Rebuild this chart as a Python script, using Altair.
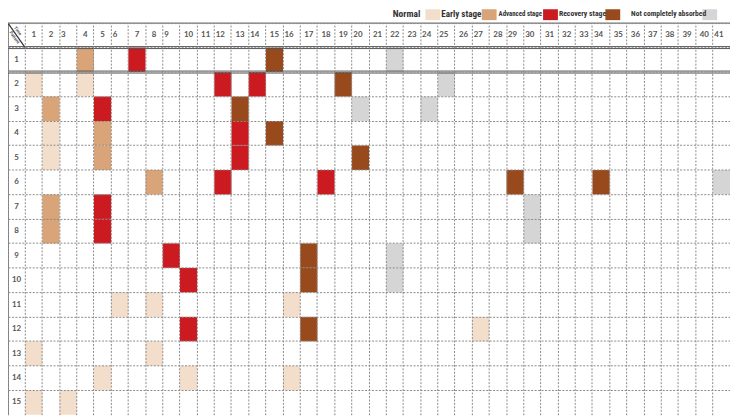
import altair as alt
import pandas as pd

# ---------------- data ----------------
TIMES = [str(i) for i in range(1, 42)]
PATIENTS = [str(i) for i in range(1, 16)]

STAGE_NAMES = ["Normal", "Early stage", "Advanced stage", "Recovery stage", "Not completely absorbed"]
STAGE_COLORS = ["#F3DECB", "#D9A477", "#CB1A20", "#994A1D", "#D5D5D5"]

N, E, A, R, X = STAGE_NAMES

cell_patient = [
    1, 1, 1, 1,
    2, 2, 2, 2, 2, 2,
    3, 3, 3, 3, 3,
    4, 4, 4, 4,
    5, 5, 5, 5,
    6, 6, 6, 6, 6, 6,
    7, 7, 7,
    8, 8, 8,
    9, 9, 9,
    10, 10, 10,
    11, 11, 11,
    12, 12, 12,
    13, 13,
    14, 14, 14,
    15, 15,
]
cell_time = [
    4, 7, 15, 22,
    1, 4, 12, 14, 19, 25,
    2, 5, 13, 20, 24,
    2, 5, 13, 15,
    2, 5, 13, 20,
    8, 12, 18, 29, 34, 41,
    2, 5, 30,
    2, 5, 30,
    9, 17, 22,
    10, 17, 22,
    6, 8, 16,
    10, 17, 27,
    1, 8,
    5, 10, 16,
    1, 3,
]
cell_stage = [
    E, A, R, X,
    N, N, A, A, R, X,
    E, A, R, X, X,
    N, E, A, R,
    N, E, A, R,
    E, A, A, R, R, X,
    E, A, X,
    E, A, X,
    A, R, X,
    A, R, X,
    N, N, N,
    A, R, N,
    N, N,
    N, N, N,
    N, N,
]

# header labels that sit at the left of their cell in the original table
LEFT_ALIGNED_TIMES = ["3", "6", "9", "12", "14", "16", "20", "24", "25", "27", "29", "30", "34", "41"]

# ---------------- layout ----------------
W, H = 730, 396
CORNER, HEAD = "corner", "head"
X_DOMAIN = [CORNER] + TIMES
Y_DOMAIN = [HEAD] + PATIENTS
CW = W / len(X_DOMAIN)
RH = H / len(Y_DOMAIN)
FONT = "Lato"
LEGEND_FONT = "Roboto Condensed, Lato"
LABEL_COLOR = "#555555"
LINE_COLOR = "#555555"

xs = alt.Scale(type="band", domain=X_DOMAIN, paddingInner=0, paddingOuter=0)
ys = alt.Scale(type="band", domain=Y_DOMAIN, paddingInner=0, paddingOuter=0)

cells = pd.DataFrame({
    "t": [str(v) for v in cell_time],
    "p": [str(v) for v in cell_patient],
    "stage": cell_stage,
})

rects = alt.Chart(cells).mark_rect().encode(
    x=alt.X("t:N", scale=xs, title=""),
    y=alt.Y("p:N", scale=ys, title=""),
    color=alt.Color("stage:N", scale=alt.Scale(domain=STAGE_NAMES, range=STAGE_COLORS), legend=None),
)

head_df = pd.DataFrame({"t": TIMES, "p": HEAD})
head_df["left"] = head_df["t"].isin(LEFT_ALIGNED_TIMES)

head_center = alt.Chart(head_df).transform_filter("!datum.left").mark_text(
    font=FONT, fontSize=8, fontWeight="bold", color=LABEL_COLOR, align="center", baseline="middle"
).encode(x=alt.X("t:N", scale=xs, title=""), y=alt.Y("p:N", scale=ys, title=""), text="t:N")

head_left = alt.Chart(head_df).transform_filter("datum.left").mark_text(
    font=FONT, fontSize=8, fontWeight="bold", color=LABEL_COLOR, align="left", baseline="middle",
    dx=-CW / 2 + 1.5
).encode(x=alt.X("t:N", scale=xs, title=""), y=alt.Y("p:N", scale=ys, title=""), text="t:N")

row_df = pd.DataFrame({"t": CORNER, "p": PATIENTS})
row_labels = alt.Chart(row_df).mark_text(
    font=FONT, fontSize=8, fontWeight="bold", color=LABEL_COLOR, align="center", baseline="middle"
).encode(x=alt.X("t:N", scale=xs, title=""), y=alt.Y("p:N", scale=ys, title=""), text="p:N")

# table borders
top_border = alt.Chart(pd.DataFrame({"p": [HEAD]})).mark_rule(color="#777777", strokeWidth=1.2).encode(
    y=alt.Y("p:N", scale=ys, bandPosition=0, title="")
)
left_border = alt.Chart(pd.DataFrame({"t": [CORNER]})).mark_rule(color="#555555", strokeWidth=1.5).encode(
    x=alt.X("t:N", scale=xs, bandPosition=0, title="")
)
dbl_df = pd.DataFrame({"p": ["1", "2"]})
dbl1 = alt.Chart(dbl_df).mark_rule(color=LINE_COLOR, strokeWidth=1, yOffset=-1).encode(
    y=alt.Y("p:N", scale=ys, bandPosition=0, title="")
)
dbl2 = alt.Chart(dbl_df).mark_rule(color=LINE_COLOR, strokeWidth=1, yOffset=1).encode(
    y=alt.Y("p:N", scale=ys, bandPosition=0, title="")
)

one = pd.DataFrame({"k": [0]})
diag = alt.Chart(one).mark_rule(color="#333333", strokeWidth=1.2).encode(
    x=alt.value(0), x2=alt.value(CW), y=alt.value(0), y2=alt.value(RH)
)
time_txt = alt.Chart(one).mark_text(
    font=FONT, fontSize=4.5, fontWeight="bold", color="#444444", angle=54, align="center", baseline="middle"
).encode(x=alt.value(CW * 0.55), y=alt.value(RH * 0.33), text=alt.value("Time"))
pat_txt = alt.Chart(one).mark_text(
    font=FONT, fontSize=4.5, fontWeight="bold", color="#444444", angle=54, align="center", baseline="middle"
).encode(x=alt.value(CW * 0.36), y=alt.value(RH * 0.6), text=alt.value("Patient"))

# legend drawn as in the original: label followed by its swatch
LEGEND_TEXT_X = [389, 438, 496, 557, 630]
LEGEND_TEXT_SIZE = [9.6, 9.2, 6.9, 7.8, 7.6]
LEGEND_SWATCH_X = [422, 479, 541, 604, 702]
LEGEND_SWATCH_W = 15
swatch_layers, text_layers = [], []
for name, color, tx, ts, sx in zip(STAGE_NAMES, STAGE_COLORS, LEGEND_TEXT_X, LEGEND_TEXT_SIZE, LEGEND_SWATCH_X):
    d = pd.DataFrame({"label": [name]})
    text_layers.append(
        alt.Chart(d).mark_text(font=LEGEND_FONT, fontSize=ts, fontWeight="bold", color="#333333",
                               align="left", baseline="middle")
        .encode(x=alt.value(tx), y=alt.value(-9), text="label:N")
    )
    swatch_layers.append(
        alt.Chart(d).mark_rect(color=color)
        .encode(x=alt.value(sx), x2=alt.value(sx + LEGEND_SWATCH_W), y=alt.value(-14), y2=alt.value(-3))
    )

chart = alt.layer(
    rects, head_center, head_left, row_labels,
    top_border, left_border, dbl1, dbl2, diag, time_txt, pat_txt,
    *swatch_layers, *text_layers
).properties(
    width=W, height=H,
    autosize=alt.AutoSizeParams(type="none"),
    padding={"top": 13, "left": 0, "right": 0, "bottom": 0},
    background="white",
).configure_axis(
    grid=True, bandPosition=0, labels=False, ticks=False, domain=False,
    gridDash=[2, 1.5], gridColor="#8a8a8a", gridWidth=1, gridOpacity=1,
).configure_view(strokeWidth=0)

chart.save("out.html", embed_options={"renderer": "svg", "actions": False})
